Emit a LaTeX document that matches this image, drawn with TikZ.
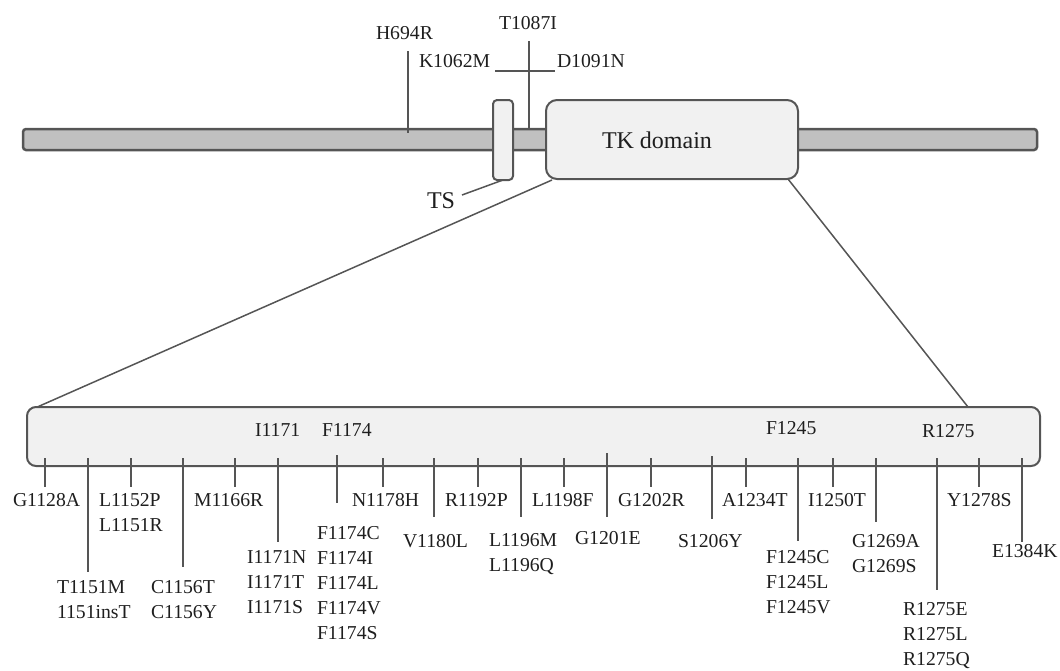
\documentclass[tikz,border=0pt]{standalone}
\usepackage{fontspec}
\setmainfont{Liberation Serif}
\definecolor{edge}{HTML}{555555}
\definecolor{barfill}{HTML}{C0C0C0}
\definecolor{boxfill}{HTML}{F1F1F1}
\definecolor{txt}{HTML}{1E1E1E}
\newcommand\stk[1]{\begin{tabular}[t]{@{}l@{}}#1\end{tabular}}
\begin{document}
\begin{tikzpicture}[x=1pt,y=-1pt,
  lbl/.style={anchor=base west, inner sep=0pt, outer sep=0pt, text=txt, font=\fontsize{19.7}{25}\selectfont},
  biglbl/.style={lbl, font=\fontsize{24}{28}\selectfont},
  barshape/.style={draw=edge, fill=barfill, line width=2.5pt, rounded corners=3pt, inner sep=0pt, outer sep=0pt},
  boxshape/.style={draw=edge, fill=boxfill, line width=2pt, inner sep=0pt, outer sep=0pt},
  conn/.style={draw=edge, line width=1.5pt},
  tickline/.style={draw=edge, line width=1.8pt}]
\useasboundingbox (0,0) rectangle (1060,670);

% protein bar and domains
\node[barshape, minimum width=1014pt, minimum height=21pt] (bar) at (530,139.5) {};
\node[boxshape, rounded corners=4pt, minimum width=20pt, minimum height=80pt] (ts) at (503,140) {};
\node[boxshape, rounded corners=11pt, minimum width=252pt, minimum height=79pt] (tk) at (672,139.5) {};
\node[biglbl] (tktext) at (602,148) {TK domain};

% top labels
\node[lbl] (h694) at (376,39) {H694R};
\node[lbl] (t1087) at (499,29) {T1087I};
\node[lbl] (k1062) at (419,67) {K1062M};
\node[lbl] (d1091) at (557,67) {D1091N};
\node[biglbl] (tslab) at (427,208) {TS};

\coordinate (h694a) at (408,51);
\coordinate (h694b) at (408,133);
\draw[conn] (h694a) -- (h694b);
\coordinate (t1087a) at (529,41);
\coordinate (t1087b) at (529,129);
\draw[conn] (t1087a) -- (t1087b);
\coordinate (kd1) at (495,71);
\coordinate (kd2) at (555,71);
\draw[conn] (kd1) -- (kd2);
\coordinate (tsl) at (462,195);
\coordinate (tsb) at (503,180);
\draw[conn] (tsl) -- (tsb);

% zoom lines
\coordinate (zl1) at (552,180);
\coordinate (zl2) at (35,408);
\coordinate (zr1) at (788,179);
\coordinate (zr2) at (968,407);
\draw[conn] (zl1) -- (zl2);
\draw[conn] (zr1) -- (zr2);

% kinase domain box
\node[boxshape, rounded corners=9pt, minimum width=1013pt, minimum height=59pt] (kd) at (533.5,436.5) {};
\node[lbl] (i1171) at (255,436) {I1171};
\node[lbl] (f1174) at (322,436) {F1174};
\node[lbl] (f1245) at (766,434) {F1245};
\node[lbl] (r1275) at (922,437) {R1275};

% ticks
\foreach \n/\x/\s/\e in {
  a/45/458/487, b/88/458/572, c/131/458/487, d/183/458/567, e/235/458/487,
  f/278/458/542, g/337/455/503, h/383/458/487, i/434/458/517, j/478/458/487,
  k/521/458/517, l/564/458/487, m/607/453/517, n/651/458/487, o/712/456/519,
  p/746/458/487, q/798/458/541, r/833/458/487, s/876/458/522, t/937/458/590,
  u/979/458/487, v/1022/458/542} {
  \coordinate (\n s) at (\x,\s);
  \coordinate (\n e) at (\x,\e);
  \draw[tickline] (\n s) -- (\n e);
}

% mutation labels
\node[lbl] (la) at (13,506) {G1128A};
\node[lbl] (lb) at (57,593) {\stk{T1151M\\1151insT}};
\node[lbl] (lc) at (99,506) {\stk{L1152P\\L1151R}};
\node[lbl] (ld) at (151,593) {\stk{C1156T\\C1156Y}};
\node[lbl] (le) at (194,506) {M1166R};
\node[lbl] (lf) at (247,563) {\stk{I1171N\\I1171T\\I1171S}};
\node[lbl] (lg) at (317,539) {\stk{F1174C\\F1174I\\F1174L\\F1174V\\F1174S}};
\node[lbl] (lh) at (352,506) {N1178H};
\node[lbl] (li) at (403,547) {V1180L};
\node[lbl] (lj) at (445,506) {R1192P};
\node[lbl] (lk) at (489,546) {\stk{L1196M\\L1196Q}};
\node[lbl] (ll) at (532,506) {L1198F};
\node[lbl] (lm) at (575,544) {G1201E};
\node[lbl] (ln) at (618,506) {G1202R};
\node[lbl] (lo) at (678,547) {S1206Y};
\node[lbl] (lp) at (722,506) {A1234T};
\node[lbl] (lq) at (766,563) {\stk{F1245C\\F1245L\\F1245V}};
\node[lbl] (lr) at (808,506) {I1250T};
\node[lbl] (ls) at (852,547) {\stk{G1269A\\G1269S}};
\node[lbl] (lt) at (903,615) {\stk{R1275E\\R1275L\\R1275Q}};
\node[lbl] (lu) at (947,506) {Y1278S};
\node[lbl] (lv) at (992,557) {E1384K};
\end{tikzpicture}
\end{document}
